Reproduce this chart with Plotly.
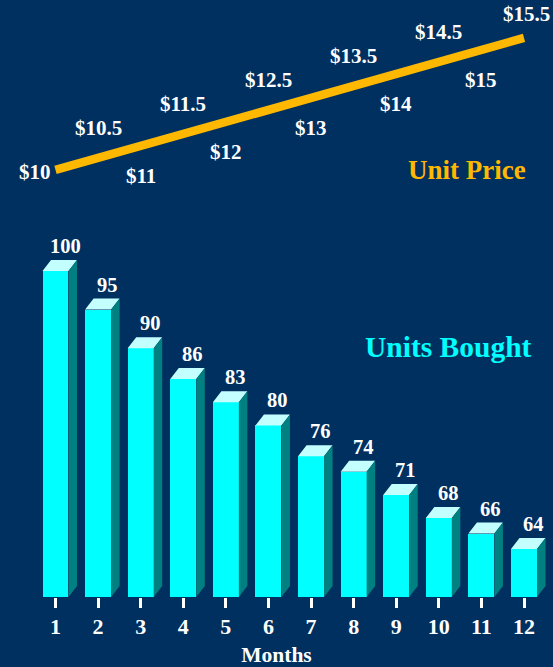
import plotly.graph_objects as go

# ---------------- data ----------------
months = [1, 2, 3, 4, 5, 6, 7, 8, 9, 10, 11, 12]
units_bought = [100, 95, 90, 86, 83, 80, 76, 74, 71, 68, 66, 64]
unit_price = [10, 10.5, 11, 11.5, 12, 12.5, 13, 13.5, 14, 14.5, 15, 15.5]
price_labels = ["$10", "$10.5", "$11", "$11.5", "$12", "$12.5", "$13",
                "$13.5", "$14", "$14.5", "$15", "$15.5"]

# ---------------- styling ----------------
BG = "#003060"
CYAN = "#00FFFF"
CYAN_TOP = "#C4FFFF"
CYAN_SIDE = "#008080"
GOLD = "#FFB800"
FONT = "Liberation Serif, Times New Roman, serif"

W, H = 553, 667
X_RANGE = [-0.303, 12.681]
Y_RANGE = [57.78, 135.09]      # bars
Y2_RANGE = [-7.79, 17.08]      # price line

bar_w = 0.61
dx = 0.2     # depth (x units)
dy = 1.42    # depth (y units)
base = Y_RANGE[0]

fig = go.Figure()

# front faces
fig.add_trace(go.Bar(x=months, y=units_bought, width=bar_w,
                     marker=dict(color=CYAN, line=dict(width=0)),
                     hoverinfo="skip", showlegend=False))

# top faces and side faces (3D look), derived from data
top_x, top_y, side_x, side_y = [], [], [], []
for m, v in zip(months, units_bought):
    xl, xr = m - bar_w / 2, m + bar_w / 2
    top_x += [xl, xr, xr + dx, xl + dx, xl, None]
    top_y += [v, v, v + dy, v + dy, v, None]
    side_x += [xr, xr + dx, xr + dx, xr, xr, None]
    side_y += [v, v + dy, base + dy, base, v, None]

fig.add_trace(go.Scatter(x=top_x, y=top_y, mode="lines", fill="toself",
                         fillcolor=CYAN_TOP, line=dict(width=0, color=CYAN_TOP),
                         hoverinfo="skip", showlegend=False))
fig.add_trace(go.Scatter(x=side_x, y=side_y, mode="lines", fill="toself",
                         fillcolor=CYAN_SIDE, line=dict(width=0, color=CYAN_SIDE),
                         hoverinfo="skip", showlegend=False))

# price line
fig.add_trace(go.Scatter(x=months, y=unit_price, mode="lines", yaxis="y2",
                         line=dict(color=GOLD, width=8.5),
                         hoverinfo="skip", showlegend=False))

annotations = []
for m, v in zip(months, units_bought):
    annotations.append(dict(x=m, y=v, xref="x", yref="y", text="<b>%d</b>" % v,
                            showarrow=False, xanchor="center", yanchor="middle",
                            xshift=9.5, yshift=25,
                            font=dict(family=FONT, size=20.5, color="white")))

n = len(unit_price)
for i, (m, p, lab) in enumerate(zip(months, unit_price, price_labels)):
    if i == 0:
        xs, ys = -21, -2
    elif i == n - 1:
        xs, ys = 2, 24
    else:
        xs, ys = 0, (30 if i % 2 == 1 else -30)
    annotations.append(dict(x=m, y=p, xref="x", yref="y2", text="<b>%s</b>" % lab,
                            showarrow=False, xanchor="center", yanchor="middle",
                            xshift=xs, yshift=ys,
                            font=dict(family=FONT, size=21, color="white")))

plot_h = H - 70
annotations.append(dict(x=467 / W, y=(H - 170 - 70) / plot_h, xref="paper", yref="paper",
                        text="<b>Unit Price</b>",
                        showarrow=False, xanchor="center", yanchor="middle",
                        font=dict(family=FONT, size=27, color=GOLD)))
annotations.append(dict(x=448 / W, y=(H - 347 - 70) / plot_h, xref="paper", yref="paper",
                        text="<b>Units Bought</b>",
                        showarrow=False, xanchor="center", yanchor="middle",
                        font=dict(family=FONT, size=29.5, color=CYAN)))

fig.update_layout(
    width=W, height=H,
    paper_bgcolor=BG, plot_bgcolor=BG,
    margin=dict(l=0, r=0, t=0, b=70),
    showlegend=False,
    bargap=0,
    xaxis=dict(range=X_RANGE, tickmode="array", tickvals=months,
               ticktext=["<b>%d</b>" % m for m in months],
               ticks="outside", ticklen=10, tickwidth=2.5, tickcolor="white",
               showgrid=False, zeroline=False, showline=False,
               tickfont=dict(family=FONT, size=22, color="white"),
               title=dict(text="<b>Months</b>", standoff=8,
                          font=dict(family=FONT, size=21.5, color="white")),
               fixedrange=True),
    yaxis=dict(range=Y_RANGE, visible=False, showgrid=False, zeroline=False,
               fixedrange=True),
    yaxis2=dict(range=Y2_RANGE, overlaying="y", visible=False, showgrid=False,
                zeroline=False, fixedrange=True),
    annotations=annotations,
)

fig.write_html("out.html", config={"displayModeBar": False},
               post_script="document.body.style.margin='0';"
                           "document.body.style.overflow='hidden';")
